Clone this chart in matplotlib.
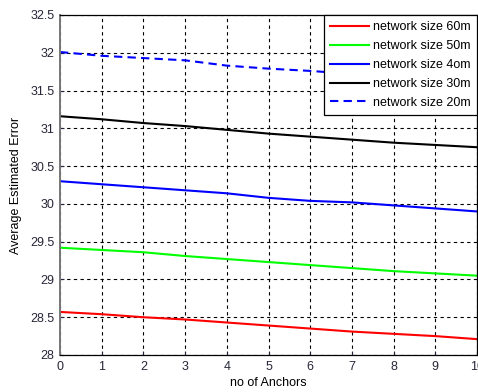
import matplotlib.pyplot as plt
plt.switch_backend('agg')

plt.rcParams['font.family'] = ['Liberation Sans', 'DejaVu Sans']

anchors = [0, 1, 2, 3, 4, 5, 6, 7, 8, 9, 10]
size60 = [28.57, 28.54, 28.50, 28.47, 28.43, 28.39, 28.35, 28.31, 28.28, 28.25, 28.21]
size50 = [29.42, 29.39, 29.36, 29.31, 29.27, 29.23, 29.19, 29.15, 29.11, 29.08, 29.05]
size40 = [30.30, 30.26, 30.22, 30.18, 30.14, 30.08, 30.04, 30.02, 29.98, 29.94, 29.90]
size30 = [31.16, 31.12, 31.07, 31.03, 30.98, 30.93, 30.89, 30.85, 30.81, 30.78, 30.75]
size20 = [32.01, 31.96, 31.93, 31.90, 31.83, 31.79, 31.76, 31.72, 31.68, 31.65, 31.62]

labels = ['network size 60m', 'network size 50m', 'network size 4om',
          'network size 30m', 'network size 20m']

fig = plt.figure(figsize=(4.78, 3.92), dpi=100)
ax = fig.add_axes([60/478, 1-355/392, 417/478, 340/392])

ax.plot(anchors, size60, color='#ff0000', lw=1.5, label=labels[0])
ax.plot(anchors, size50, color='#00ff00', lw=1.5, label=labels[1])
ax.plot(anchors, size40, color='#0000ff', lw=1.5, label=labels[2])
ax.plot(anchors, size30, color='black', lw=1.5, label=labels[3])
ax.plot(anchors, size20, color='#0000ff', lw=1.5, ls=(0, (4, 2.5)), label=labels[4])

ax.set_xlim(0, 10)
ax.set_ylim(28, 32.5)
ax.set_xticks(range(0, 11))
ax.set_yticks([28, 28.5, 29, 29.5, 30, 30.5, 31, 31.5, 32, 32.5])
ax.set_yticklabels(['28', '28.5', '29', '29.5', '30', '30.5', '31', '31.5', '32', '32.5'])
ax.grid(True, color='black', ls=(0, (3, 3)), lw=0.8)
ax.tick_params(direction='in', length=3, labelsize=9, colors='#262638', pad=4)
for s in ax.spines.values():
    s.set_linewidth(0.9)
ax.spines['left'].set_color('#777777')
ax.spines['left'].set_linewidth(1.4)

ax.set_xlabel('no of Anchors', fontsize=9, labelpad=3)
ax.set_ylabel('Average Estimated Error', fontsize=9, labelpad=6)

leg = ax.legend(loc='upper right', fontsize=9, fancybox=False, framealpha=1,
                edgecolor='black', borderaxespad=0, handlelength=3.1,
                labelspacing=0.55, borderpad=0.5, handletextpad=0.35)
leg.get_frame().set_linewidth(0.9)

plt.savefig('out.png')
